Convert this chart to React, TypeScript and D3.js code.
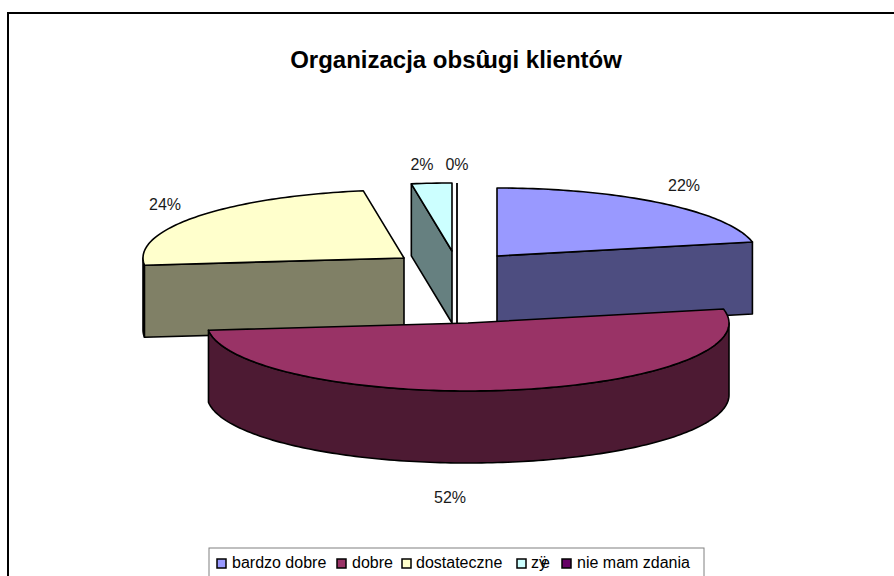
import React from "react";
import * as d3 from "d3";

const categories = ["bardzo dobre", "dobre", "dostateczne", "zÿe", "nie mam zdania"];
const values = [21.7, 51.6, 24.2, 2.49, 0];
const topColors = ["#9999FF", "#993366", "#FFFFCC", "#CCFFFF", "#660066"];
const sideColors = ["#4D4D80", "#4D1A33", "#808066", "#668080", "#330033"];

// Layout only: apex of each exploded slice, label anchors, legend item x.
const apexX = [497, 468, 404, 452, 457];
const apexY = [256, 323, 258, 251, 251];
const labelX = [684, 450, 165, 422, 457];
const labelY = [191, 503, 210, 170, 170];
const legendSwatchX = [217, 337, 402, 517, 562];
const legendTextX = [232, 352, 416, 531, 577];
const drawOrder = [3, 4, 0, 2, 1];

const RX = 261;
const RY = 68;
const DEPTH = 72;

const angles = d3.pie<number>().sort(null).value((d) => d)(values);
const pct = d3.format(".0%");
const total = d3.sum(values);
const line = d3.line<[number, number]>().curve(d3.curveLinear);

function pt(i: number, a: number, dz = 0): [number, number] {
  return [apexX[i] + RX * Math.sin(a), apexY[i] - RY * Math.cos(a) + dz];
}
function arcPts(i: number, a0: number, a1: number, dz = 0): [number, number][] {
  const n = Math.max(2, Math.ceil(Math.abs(a1 - a0) / 0.02));
  return d3.range(n + 1).map((k) => pt(i, a0 + ((a1 - a0) * k) / n, dz));
}
const apex = (i: number, dz = 0): [number, number] => [apexX[i], apexY[i] + dz];

function SliceShape({ i }: { i: number }) {
  const { startAngle: a0, endAngle: a1 } = angles[i];
  const stroke = { stroke: "#000", strokeWidth: 1.6, strokeLinejoin: "round" as const };
  if (a1 - a0 < 1e-6) {
    const a = pt(i, a0);
    return <path d={line([a, [a[0], a[1] + RY + DEPTH]]) ?? ""} stroke="#000" strokeWidth={1.8} fill="none" />;
  }
  const faces: React.ReactNode[] = [];
  // curved outer wall, only for the part of the rim facing the viewer
  const lo = Math.max(a0, Math.PI / 2);
  const hi = Math.min(a1, (3 * Math.PI) / 2);
  if (hi > lo) {
    const upper = arcPts(i, lo, hi);
    const lower = arcPts(i, hi, lo, DEPTH);
    faces.push(<path key="rim" d={(line([...upper, ...lower]) ?? "") + "Z"} fill={sideColors[i]} {...stroke} />);
  }
  // flat cut walls
  if (i === 3 || i === 2 || i === 0) {
    const p = pt(i, i === 0 ? a1 : a0);
    faces.push(<path key="cut" d={(line([apex(i), p, [p[0], p[1] + DEPTH], apex(i, DEPTH)]) ?? "") + "Z"} fill={sideColors[i]} {...stroke} />);
  }
  const top = [apex(i), ...arcPts(i, a0, a1)];
  faces.push(<path key="top" d={(line(top) ?? "") + "Z"} fill={topColors[i]} {...stroke} />);
  return <g>{faces}</g>;
}

export default function App() {
  const font = "'Liberation Sans', Arial, sans-serif";
  return (
    <svg width={894} height={576} style={{ position: "absolute", left: 0, top: 0, background: "#fff" }} fontFamily={font}>
      <rect x={8} y={13} width={1000} height={700} fill="#fff" stroke="#000" strokeWidth={2} />
      <text x={456} y={68} textAnchor="middle" fontSize={24} fontWeight="bold" fill="#000">
        Organizacja obsû<tspan dx={-7}>ugi klientów</tspan>
      </text>
      {drawOrder.map((i) => (
        <SliceShape key={i} i={i} />
      ))}
      {values.map((v, i) => (
        <text key={i} x={labelX[i]} y={labelY[i]} textAnchor="middle" fontSize={16} fill="#1a1a1a">
          {pct(v / total)}
        </text>
      ))}
      <rect x={209} y={548} width={495} height={60} fill="#fff" stroke="#808080" strokeWidth={1} />
      {categories.map((c, i) => (
        <g key={c}>
          <rect x={legendSwatchX[i]} y={559} width={9} height={9} fill={topColors[i]} stroke="#000" strokeWidth={1.5} />
          <text x={legendTextX[i]} y={568} fontSize={16} fill="#000">
            {c === "zÿe" ? (
              <>
                zÿ<tspan dx={-6}>e</tspan>
              </>
            ) : (
              c
            )}
          </text>
        </g>
      ))}
    </svg>
  );
}
